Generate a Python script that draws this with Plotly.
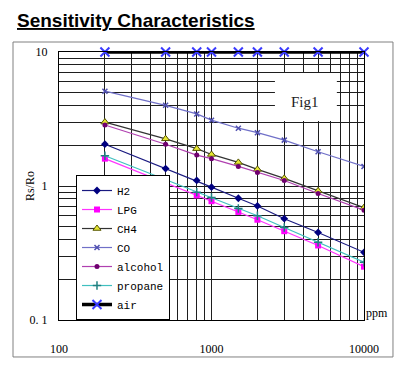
import plotly.graph_objects as go

# ---- data ----
ppm = [200, 500, 800, 1000, 1500, 2000, 3000, 5000, 10000]
h2 = [2.05, 1.35, 1.1, 0.98, 0.81, 0.71, 0.57, 0.45, 0.32]
lpg = [1.6, 1.06, 0.85, 0.77, 0.64, 0.56, 0.46, 0.36, 0.25]
ch4 = [3.0, 2.25, 1.9, 1.72, 1.5, 1.33, 1.14, 0.92, 0.69]
co = [5.1, 4.0, 3.45, 3.1, 2.7, 2.5, 2.2, 1.8, 1.4]
alcohol = [2.85, 2.05, 1.7, 1.6, 1.4, 1.26, 1.1, 0.88, 0.66]
propane = [1.68, 1.12, 0.9, 0.82, 0.68, 0.6, 0.49, 0.38, 0.27]
air = [10, 10, 10, 10, 10, 10, 10, 10, 10]

x_tickvals = [100, 200, 300, 400, 500, 600, 700, 800, 900,
              1000, 2000, 3000, 4000, 5000, 6000, 7000, 8000, 9000, 10000]
x_ticktext = ["100"] + [""] * 8 + ["1000"] + [""] * 8 + ["10000"]
y_tickvals = [0.1, 0.2, 0.3, 0.4, 0.5, 0.6, 0.7, 0.8, 0.9,
              1, 2, 3, 4, 5, 6, 7, 8, 9, 10]
y_ticktext = ["0. 1"] + [""] * 8 + ["1"] + [""] * 8 + ["10"]

SERIF = "Liberation Serif"

fig = go.Figure()

def add(name, y, lcolor, symbol, mcolor, msize, lwidth=1.2, mline=None, clip=True):
    marker = dict(symbol=symbol, color=mcolor, size=msize)
    if mline is not None:
        marker["line"] = mline
    fig.add_trace(go.Scatter(
        x=ppm, y=y, name=name, mode="lines+markers",
        line=dict(color=lcolor, width=lwidth), marker=marker,
        cliponaxis=clip,
    ))

add("H2", h2, "#1a1a80", "diamond", "#000080", 6)
add("LPG", lpg, "#ff33ff", "square", "#ff00ff", 6)
add("CH4", ch4, "#333333", "triangle-up", "#e6e633", 7,
    mline=dict(color="#555500", width=1))
add("CO", co, "#7070c8", "x-thin", "#5050b0", 5,
    mline=dict(color="#5050b0", width=1.5))
add("alcohol", alcohol, "#b040b0", "circle", "#700070", 5)
add("propane", propane, "#40c0c0", "cross-thin", "#208080", 6,
    mline=dict(color="#208080", width=1.5))
add("air", air, "#000000", "x-thin", "#3a3aff", 9, lwidth=3.5,
    mline=dict(color="#3a3aff", width=2), clip=False)

axis_common = dict(
    type="log", automargin=False,
    showgrid=True, gridcolor="#1e1e1e", gridwidth=1,
    showline=True, linecolor="#000000", linewidth=1, mirror=True,
    zeroline=False,
    ticks="outside", ticklen=0,
    tickfont=dict(family=SERIF, size=12, color="#000000"),
)

fig.update_xaxes(range=[2, 4], tickmode="array", tickvals=x_tickvals,
                 ticktext=x_ticktext, ticklabelstandoff=18, **axis_common)
fig.update_yaxes(range=[-1, 1], tickmode="array", tickvals=y_tickvals,
                 ticktext=y_ticktext, ticklabelstandoff=8, **axis_common)

# outer chart frame
fig.add_shape(type="rect", xref="paper", yref="paper",
              x0=-0.1508, x1=1.095, y0=-0.138, y1=1.0373,
              line=dict(color="#808080", width=1), layer="below")
# Fig1 text box
fig.add_shape(type="rect", xref="paper", yref="paper",
              x0=0.708, x1=0.911, y0=0.743, y1=0.922,
              fillcolor="#ffffff", line=dict(width=0), layer="above")

fig.add_annotation(text="Fig1", xref="paper", yref="paper",
                   x=0.805, y=0.815, xanchor="center", yanchor="middle",
                   showarrow=False,
                   font=dict(family=SERIF, size=15, color="#222222"))
fig.add_annotation(text="<b><u>Sensitivity Characteristics</u></b>",
                   xref="paper", yref="paper", x=-0.141, y=1.162,
                   xanchor="left", yanchor="top", showarrow=False, borderpad=0,
                   font=dict(family="Liberation Sans", size=19, color="#000000"))
fig.add_annotation(text="Rs/Ro", xref="paper", yref="paper",
                   x=-0.095, y=0.5, xanchor="center", yanchor="middle",
                   textangle=-90, showarrow=False,
                   font=dict(family=SERIF, size=12, color="#000000"))
fig.add_annotation(text="ppm", xref="paper", yref="paper",
                   x=1.0, y=0.026, xanchor="left", yanchor="middle",
                   showarrow=False,
                   font=dict(family=SERIF, size=12, color="#000000"))

# page body has an 8px margin: shrink figure so plot lands at the same pixels
fig.update_layout(
    width=401, height=364,
    margin=dict(l=51, r=45, t=44, b=52),
    paper_bgcolor="#ffffff", plot_bgcolor="#ffffff",
    showlegend=True,
    legend=dict(x=0.0557, y=0.541, xanchor="left", yanchor="top",
                bgcolor="#ffffff", bordercolor="#000000", borderwidth=1,
                font=dict(family="Liberation Mono", size=11, color="#000000"),
                itemwidth=30, tracegroupgap=0),
)

fig.write_html("out.html")
